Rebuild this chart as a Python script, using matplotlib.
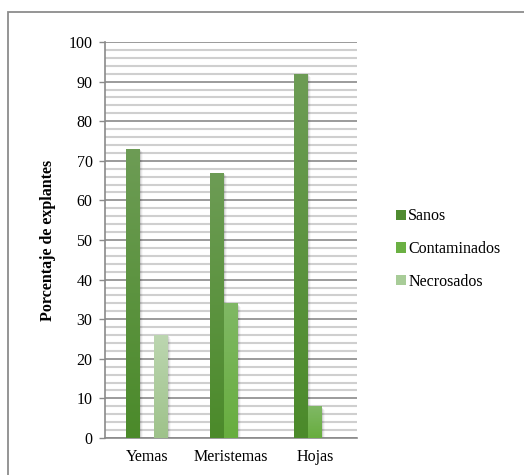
import numpy as np
import matplotlib.pyplot as plt
from matplotlib.patches import Rectangle
from matplotlib.colors import LinearSegmentedColormap

categories = ["Yemas", "Meristemas", "Hojas"]
series = ["Sanos", "Contaminados", "Necrosados"]
sanos = [73, 67, 92]
contaminados = [0, 34, 8]
necrosados = [26, 0, 0]
values = [sanos, contaminados, necrosados]

# top / bottom colours of each series gradient
top_colors = ["#6d9c55", "#80b865", "#bcd6b0"]
bottom_colors = ["#4b8a2a", "#67ad3e", "#9ec28a"]
legend_colors = ["#4f8b30", "#6bb043", "#a8cc98"]

plt.rcParams['font.family'] = ['Liberation Serif', 'DejaVu Serif']
fs = 11.5

fig = plt.figure(figsize=(5.24, 4.75), dpi=100)
ax = fig.add_axes([0.2004, 0.0779, 0.4809, 0.8337])

# outer chart border
fig.patches.append(Rectangle((8 / 524, -0.1), 2, 1 - 12 / 475 + 0.1, transform=fig.transFigure,
                             fill=False, edgecolor="#8c8c8c", linewidth=1.3))

x = np.arange(len(categories))
w = 1 / 6
for i, vals in enumerate(values):
    pos = x + (i - 1) * w
    cmap = LinearSegmentedColormap.from_list("g%d" % i, [bottom_colors[i], top_colors[i]])
    for xp, v in zip(pos, vals):
        if v <= 0:
            continue
        # soft shadow on the right side
        for k, a in enumerate([0.10, 0.06, 0.03]):
            ax.add_patch(Rectangle((xp - w / 2 + 0.01 * (k + 1), 0), w, v - 0.3 * (k + 1),
                                   facecolor="black", alpha=a, linewidth=0, zorder=2))
        bar = ax.bar(xp, v, w, color=bottom_colors[i], linewidth=0, zorder=3)[0]
        grad = np.linspace(0, 1, 256).reshape(-1, 1)
        im = ax.imshow(grad, cmap=cmap, origin="lower", aspect="auto",
                       extent=(xp - w / 2, xp + w / 2, 0, v), zorder=4)
        im.set_clip_path(bar)

for i, name in enumerate(series):
    ax.bar(0, 0, 0, color=legend_colors[i], label=name)

ax.set_xlim(-0.5, 2.5)
ax.set_ylim(0, 100)
ax.set_yticks(range(0, 101, 10))
ax.set_yticks(range(0, 101, 2), minor=True)
ax.grid(True, which="minor", axis="y", color="#cfcfcf", linewidth=1.5, zorder=0)
ax.grid(True, which="major", axis="y", color="#8a8a8a", linewidth=1.2, zorder=1)
ax.set_axisbelow(True)

ax.set_xticks(x)
ax.set_xticklabels(categories, family="Liberation Serif")
ax.set_yticklabels([str(t) for t in range(0, 101, 10)], family="Liberation Serif")
ax.tick_params(axis="x", length=0, pad=8, labelsize=fs)
ax.tick_params(axis="y", which="major", length=4, width=1, color="#8a8a8a", pad=5, labelsize=fs)
ax.tick_params(axis="y", which="minor", length=0)

for s in ["top", "right"]:
    ax.spines[s].set_visible(False)
for s in ["left", "bottom"]:
    ax.spines[s].set_color("#8a8a8a")
    ax.spines[s].set_linewidth(1.2)

ax.set_ylabel("Porcentaje de explantes", fontsize=fs, fontweight="bold", labelpad=9,
              family="Liberation Serif")

ax.legend(loc="center left", bbox_to_anchor=(1.13, 0.477), frameon=False,
          prop={"family": "Liberation Serif", "size": fs},
          handlelength=0.6, handleheight=0.6, handletextpad=0.15, labelspacing=1.05,
          borderaxespad=0)

fig.savefig("out.png", dpi=100)
